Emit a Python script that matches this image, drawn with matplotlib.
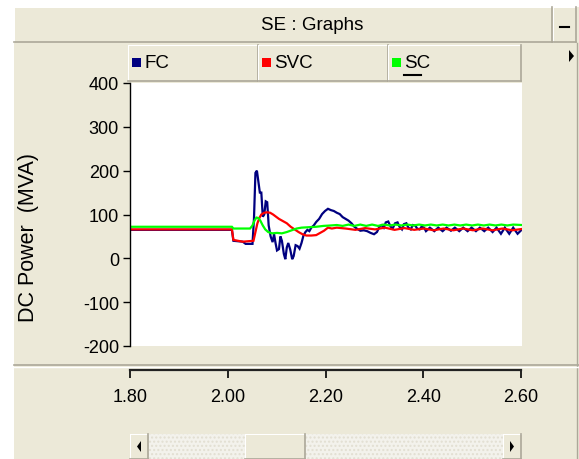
import matplotlib
matplotlib.use('Agg')
import matplotlib.pyplot as plt
from matplotlib.patches import Rectangle, Polygon
from matplotlib.lines import Line2D

# ---------------- data ----------------
title_text = 'SE : Graphs'
y_label = 'DC Power  (MVA)'
series_names = ['FC', 'SVC', 'SC']
series_colors = ['#000080', '#FF0000', '#00FF00']

fc_t = [1.800, 2.008, 2.011, 2.030, 2.036, 2.050, 2.053, 2.056, 2.059, 2.062, 2.065, 2.068,
        2.071, 2.074, 2.077, 2.080, 2.083, 2.087, 2.091, 2.094, 2.097, 2.100, 2.104, 2.107,
        2.110, 2.114, 2.117, 2.120, 2.123, 2.127, 2.131, 2.134, 2.138, 2.142, 2.146, 2.150,
        2.154, 2.158, 2.162, 2.166, 2.170, 2.175, 2.180, 2.186, 2.192, 2.198, 2.204, 2.210,
        2.216, 2.222, 2.228, 2.234, 2.240, 2.246, 2.252, 2.258, 2.264, 2.270, 2.277, 2.284,
        2.291, 2.298, 2.304, 2.309, 2.314, 2.318, 2.322, 2.327, 2.332, 2.336, 2.341, 2.346,
        2.350, 2.355, 2.359, 2.364, 2.368, 2.373, 2.377, 2.382, 2.386, 2.391, 2.395, 2.400,
        2.404, 2.412, 2.421, 2.429, 2.438, 2.446, 2.455, 2.463, 2.472, 2.480, 2.489, 2.497,
        2.506, 2.514, 2.523, 2.531, 2.540, 2.548, 2.557, 2.565, 2.574, 2.582, 2.591, 2.600]
fc_v = [65, 65, 40, 38, 33, 33, 90, 195, 200, 175, 150, 150,
        95, 100, 130, 128, 75, 50, 37, 55, 35, 18, 21, 50,
        40, 10, -2, 25, 35, 20, -2, 5, 30, 28, 22, 35,
        52, 60, 65, 62, 70, 75, 83, 90, 101, 108, 113, 110,
        108, 104, 101, 94, 90, 86, 80, 72, 67, 63, 64, 62,
        58, 55, 60, 72, 76, 70, 82, 84, 72, 68, 80, 82,
        72, 66, 78, 80, 70, 66, 76, 75, 68, 66, 72, 70,
        62, 70, 62, 70, 62, 70, 63, 70, 62, 70, 62, 70,
        62, 70, 62, 70, 60, 70, 56, 70, 56, 70, 56, 66]

svc_t = [1.800, 2.008, 2.011, 2.030, 2.052, 2.056, 2.060, 2.064, 2.068, 2.074, 2.080, 2.086,
         2.092, 2.098, 2.104, 2.112, 2.120, 2.128, 2.136, 2.144, 2.152, 2.160, 2.170, 2.180,
         2.188, 2.196, 2.204, 2.212, 2.222, 2.240, 2.260, 2.280, 2.300, 2.320, 2.340, 2.360,
         2.380, 2.400, 2.420, 2.440, 2.460, 2.480, 2.500, 2.520, 2.540, 2.560, 2.580, 2.600]
svc_v = [66, 66, 42, 38, 40, 60, 80, 92, 100, 104, 105, 104,
         100, 95, 90, 85, 80, 72, 66, 60, 55, 52, 52, 53,
         58, 63, 70, 68, 70, 68, 65, 69, 66, 70, 65, 69,
         65, 68, 64, 68, 64, 68, 64, 68, 64, 68, 64, 67]

sc_t = [1.800, 2.008, 2.011, 2.045, 2.050, 2.054, 2.058, 2.062, 2.066, 2.071, 2.076, 2.082,
        2.090, 2.100, 2.110, 2.120, 2.130, 2.140, 2.150, 2.165, 2.180, 2.195, 2.210, 2.222,
        2.234, 2.246, 2.258, 2.270, 2.282, 2.294, 2.306, 2.318, 2.330, 2.342, 2.354, 2.366,
        2.378, 2.390, 2.402, 2.414, 2.426, 2.438, 2.450, 2.462, 2.474, 2.486, 2.498, 2.510,
        2.522, 2.534, 2.546, 2.558, 2.570, 2.582, 2.600]
sc_v = [72, 72, 68, 68, 75, 86, 93, 92, 86, 75, 66, 60,
        57, 58, 57, 60, 64, 68, 70, 71, 72, 74, 75, 76,
        74, 77, 74, 77, 74, 77, 74, 77, 75, 77, 75, 77,
        75, 77, 75, 77, 75, 77, 75, 77, 75, 77, 75, 77,
        75, 77, 75, 77, 75, 77, 76]

y_ticks = [400, 300, 200, 100, 0, -100, -200]
x_ticks = [1.80, 2.00, 2.20, 2.40, 2.60]
x_tick_labels = ['1.80', '2.00', '2.20', '2.40', '2.60']

# ---------------- layout ----------------
W, H = 579, 460
BG = '#ECE9D8'
SHADOW = '#ACA899'
NARROW = ['Liberation Sans Narrow', 'Liberation Sans', 'DejaVu Sans']
REG = ['Liberation Sans', 'DejaVu Sans']

fig = plt.figure(figsize=(W / 100, H / 100), dpi=100)
fig.patch.set_facecolor('white')


def fx(x):
    return x / W


def fy(y):
    return 1 - y / H


def rect(x0, y0, x1, y1, z=1, **kw):
    r = Rectangle((fx(x0), fy(y1)), fx(x1) - fx(x0), fy(y0) - fy(y1),
                  transform=fig.transFigure, zorder=z, **kw)
    fig.add_artist(r)


def line(x0, y0, x1, y1, color, lw=0.75, z=2):
    fig.add_artist(Line2D([fx(x0), fx(x1)], [fy(y0), fy(y1)],
                          transform=fig.transFigure, color=color, lw=lw, zorder=z))


def bevel(x0, y0, x1, y1, face=BG, z=3):
    rect(x0, y0, x1, y1, z=z, facecolor=face, edgecolor='none')
    line(x0, y0, x1, y0, 'white', z=z + 0.5)
    line(x0, y0, x0, y1, 'white', z=z + 0.5)
    line(x0, y1, x1, y1, SHADOW, 1.2, z=z + 0.5)
    line(x1, y0, x1, y1, SHADOW, 1.2, z=z + 0.5)


# panel background (behind everything)
rect(14, 8, 579, 460, z=-10, facecolor=BG, edgecolor='none')
line(577, 44, 577, 460, SHADOW, 1.0, z=-9)

# header
bevel(14, 8, 552, 43)
fig.text(fx(312), fy(25), title_text, ha='center', va='center', fontsize=13.5,
         family=NARROW, color='black', zorder=6)
bevel(553, 8, 576, 43)
line(560, 28, 569, 28, 'black', 1.5, z=6)

# legend bar
cells = [(128, 258), (258, 388), (388, 521)]
for (cx0, cx1), name, col in zip(cells, series_names, series_colors):
    bevel(cx0, 46, cx1, 82)
    rect(cx0 + 4, 59, cx0 + 13, 68, z=6, facecolor=col, edgecolor='none')
    fig.text(fx(cx0 + 16), fy(64), name, ha='left', va='center', fontsize=13.5,
             family=NARROW, color='black', zorder=6)
line(cells[2][0] + 16, 76, cells[2][0] + 33, 76, 'black', 1.5, z=6)

fig.add_artist(Polygon([[fx(569), fy(51)], [fx(569), fy(63)], [fx(574), fy(57)]],
                       closed=True, transform=fig.transFigure, facecolor='black',
                       edgecolor='none', zorder=6))

# separator above the x axis
line(14, 366, 579, 366, SHADOW, 1.2, z=-8)
line(14, 367.5, 579, 367.5, 'white', 1.0, z=-8)

# ---------------- main plot ----------------
ax = fig.add_axes([fx(130), fy(347), fx(522) - fx(130), fy(84) - fy(347)])
ax.set_zorder(10)
ax.set_facecolor('white')
for s in ['top', 'right', 'bottom']:
    ax.spines[s].set_visible(False)
ax.spines['left'].set_color('black')
ax.spines['left'].set_linewidth(1.0)
ax.set_xlim(x_ticks[0], x_ticks[-1])
ax.set_ylim(min(y_ticks), max(y_ticks))
ax.set_yticks(y_ticks)
ax.set_yticklabels([str(v) for v in y_ticks], fontsize=13, family=NARROW)
ax.tick_params(axis='y', direction='out', length=5, width=1.0, pad=3, colors='black')
ax.set_xticks([])

for tt, vv, col in zip([fc_t, svc_t, sc_t], [fc_v, svc_v, sc_v], series_colors):
    ax.plot(tt, vv, color=col, lw=1.6, solid_joinstyle='miter', clip_on=True)

fig.text(fx(29), fy(238), y_label, rotation=90, ha='center', va='center',
         fontsize=15.5, family=REG, color='black', zorder=6)

# ---------------- x axis strip ----------------
axx = fig.add_axes([fx(130), fy(371), fx(521) - fx(130), 0.0001])
axx.set_zorder(10)
axx.patch.set_visible(False)
for s in ['top', 'right', 'left']:
    axx.spines[s].set_visible(False)
axx.spines['bottom'].set_color('#222222')
axx.spines['bottom'].set_linewidth(1.6)
axx.set_xlim(x_ticks[0], x_ticks[-1])
axx.set_yticks([])
axx.set_xticks(x_ticks)
axx.set_xticklabels(x_tick_labels, fontsize=13, family=NARROW)
axx.tick_params(axis='x', direction='out', length=6, width=1.2, pad=7, colors='black')

# ---------------- scrollbar ----------------
rect(130, 435, 521, 460, z=2, facecolor='#F3F2EC', edgecolor='#E2DFD2', hatch='....',
     linewidth=0)
bevel(130, 435, 148, 460)
bevel(503, 435, 521, 460)
bevel(245, 435, 305, 460)
fig.add_artist(Polygon([[fx(141), fy(442)], [fx(141), fy(453)], [fx(137), fy(447.5)]],
                       closed=True, transform=fig.transFigure, facecolor='black',
                       edgecolor='none', zorder=6))
fig.add_artist(Polygon([[fx(510), fy(442)], [fx(510), fy(453)], [fx(514), fy(447.5)]],
                       closed=True, transform=fig.transFigure, facecolor='black',
                       edgecolor='none', zorder=6))

fig.savefig('out.png', dpi=100, facecolor=fig.get_facecolor())
